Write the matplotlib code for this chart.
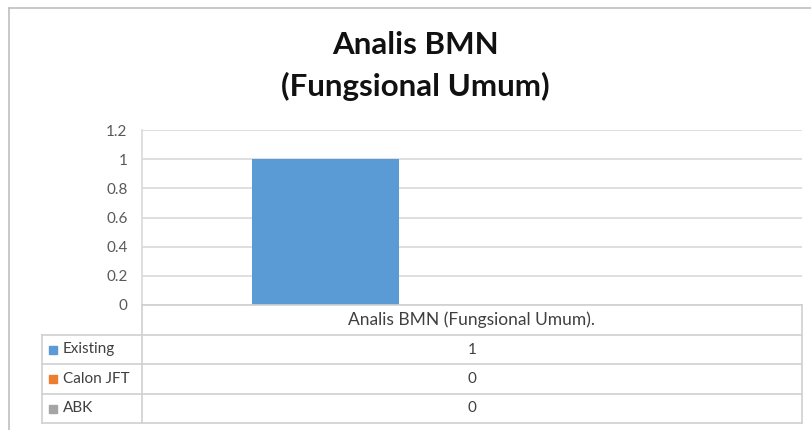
import numpy as np
import matplotlib.pyplot as plt
from matplotlib.lines import Line2D
from matplotlib.patches import Rectangle

# data
category = "Analis BMN (Fungsional Umum)."
series = ["Existing", "Calon JFT", "ABK"]
values = [1, 0, 0]
colors = ["#5B9BD5", "#ED7D31", "#A5A5A5"]
yticks = [0, 0.2, 0.4, 0.6, 0.8, 1, 1.2]
ytick_labels = ["0", "0.2", "0.4", "0.6", "0.8", "1", "1.2"]

plt.rcParams['font.family'] = ['Lato', 'DejaVu Sans']

W, H = 811, 430
fig = plt.figure(figsize=(W / 100, H / 100), dpi=100)

def fx(px):
    return px / W

def fy(py):
    return 1 - py / H

# outer chart frame
grid_c = "#d9d9d9"
fig.add_artist(Line2D([fx(9), fx(9)], [fy(8), 0], color="#bfbfbf", lw=1.2))
fig.add_artist(Line2D([fx(9), 1], [fy(8), fy(8)], color="#bfbfbf", lw=1.2))

# title
fig.text(fx(415), fy(45), "Analis BMN", ha="center", va="center",
         fontsize=22.5, fontweight="bold", color="#111111")
fig.text(fx(415), fy(86), "(Fungsional Umum)", ha="center", va="center",
         fontsize=22.5, fontweight="bold", color="#111111")

# plot area
left, right, top, bottom = 142, 802, 130, 305
ax = fig.add_axes([fx(left), fy(bottom), fx(right - left), (bottom - top) / H])
n = len(series)
bw = 1 / (n + 1.5)
offsets = (np.arange(n) - (n - 1) / 2) * bw
for i in range(n):
    ax.bar(offsets[i], values[i], width=bw, color=colors[i], zorder=3)
ax.set_xlim(-0.5, 0.5)
ax.set_ylim(0, 1.2)
ax.set_yticks(yticks)
ax.set_yticklabels(ytick_labels)
ax.set_xticks([])
ax.tick_params(axis="y", length=0, pad=10.5, labelsize=11, labelcolor="#595959")
ax.grid(axis="y", color=grid_c, lw=1.2, zorder=0)
for s in ["top", "right", "bottom"]:
    ax.spines[s].set_visible(False)
ax.spines["left"].set_color(grid_c)
ax.spines["left"].set_linewidth(1.2)

# data table
rows_y = [305, 335, 364, 394, 423]
tleft = 42
tc = "#d0d0d0"
# header row
fig.add_artist(Line2D([fx(left), fx(right)], [fy(rows_y[0])] * 2, color=tc, lw=1.2))
fig.add_artist(Line2D([fx(left), fx(left)], [fy(rows_y[0]), fy(rows_y[-1])], color=tc, lw=1.2))
fig.add_artist(Line2D([fx(right), fx(right)], [fy(rows_y[0]), fy(rows_y[-1])], color=tc, lw=1.2))
for yy in rows_y[1:]:
    fig.add_artist(Line2D([fx(tleft), fx(right)], [fy(yy)] * 2, color=tc, lw=1.2))
fig.add_artist(Line2D([fx(tleft), fx(tleft)], [fy(rows_y[1]), fy(rows_y[-1])], color=tc, lw=1.2))

cx = (left + right) / 2
fig.text(fx(cx), fy((rows_y[0] + rows_y[1]) / 2), category, ha="center", va="center",
         fontsize=12.5, color="#404040")
for i in range(n):
    yc = (rows_y[i + 1] + rows_y[i + 2]) / 2
    fig.add_artist(Rectangle((fx(49), fy(yc + 4)), fx(8), 8 / H, color=colors[i]))
    fig.text(fx(63), fy(yc), series[i], ha="left", va="center", fontsize=11, color="#404040")
    fig.text(fx(cx), fy(yc), str(values[i]), ha="center", va="center", fontsize=11, color="#404040")

fig.savefig("out.png", dpi=100)
